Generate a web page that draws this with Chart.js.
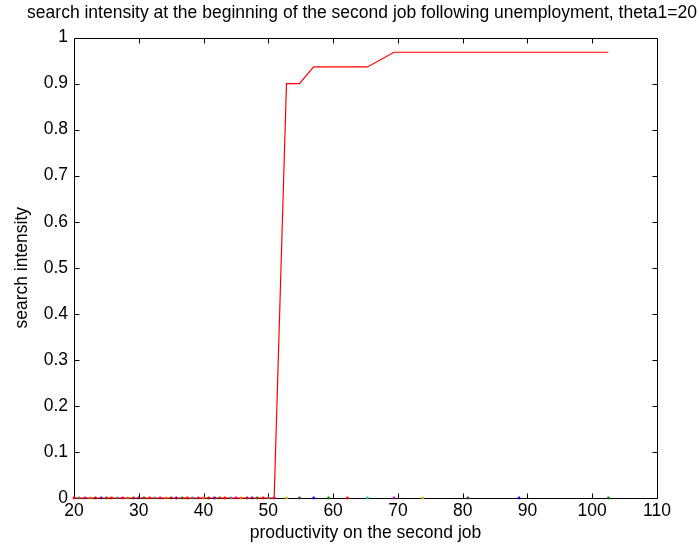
<!DOCTYPE html>
<html>
<head>
<meta charset="utf-8">
<script src="https://cdn.jsdelivr.net/npm/chart.js@4.4.1/dist/chart.umd.min.js"></script>
<style>
  html, body { margin: 0; padding: 0; background: #fff; }
  #wrap { width: 699px; height: 545px; }
</style>
</head>
<body>
<div id="wrap"><canvas id="c" width="699" height="545"></canvas></div>
<script>
// Productivity grid on the second job
const productivity = [
  20.0, 20.8, 21.7, 22.5, 23.3, 24.2, 25.0, 25.8, 26.7, 27.5,
  28.3, 29.2, 30.0, 30.8, 31.7, 32.5, 33.3, 34.2, 35.0, 35.8,
  36.7, 37.5, 38.3, 39.2, 40.0, 40.8, 41.7, 42.5, 43.3, 44.2,
  45.0, 45.8, 46.7, 47.5, 48.3, 49.2, 50.0, 50.9,
  52.8, 54.8, 57.0, 59.3, 62.2, 65.3, 69.4, 73.8, 80.8, 88.7, 102.5
];
// Search intensity at the start of the second job
const intensity = [
  0, 0, 0, 0, 0, 0, 0, 0, 0, 0,
  0, 0, 0, 0, 0, 0, 0, 0, 0, 0,
  0, 0, 0, 0, 0, 0, 0, 0, 0, 0,
  0, 0, 0, 0, 0, 0, 0, 0,
  0.900, 0.900, 0.936, 0.936, 0.936, 0.936, 0.968, 0.968, 0.968, 0.968, 0.968
];
const xTicks = [20, 30, 40, 50, 60, 70, 80, 90, 100, 110];
const yTicks = [0, 0.1, 0.2, 0.3, 0.4, 0.5, 0.6, 0.7, 0.8, 0.9, 1];
const titleText = 'search intensity at the beginning of the second job following unemployment, theta1=20';

const FONT = '"Liberation Sans", Arial, Helvetica, sans-serif';
const FS = 17.5;
const palette = ['#0000ff', '#008000', '#ff0000', '#00bfbf', '#bf00bf', '#bfbf00', '#404040'];

const linePts = productivity.map((x, i) => ({ x, y: intensity[i] }));
const zeroPts = productivity.map(x => ({ x, y: 0 }));

// Box frame with inward ticks on all four sides, plus the figure title
const framePlugin = {
  id: 'frame',
  beforeDatasetsDraw(chart) {
    const { ctx, chartArea: a, scales } = chart;
    const L = Math.round(a.left) + 0.5, R = Math.round(a.right) + 0.5;
    const T = Math.round(a.top) + 0.5, B = Math.round(a.bottom) + 0.5;
    const len = 5;
    ctx.save();
    ctx.strokeStyle = '#000';
    ctx.lineWidth = 1;
    ctx.beginPath();
    ctx.rect(L, T, R - L, B - T);
    xTicks.forEach(v => {
      const px = Math.round(scales.x.getPixelForValue(v)) + 0.5;
      ctx.moveTo(px, B); ctx.lineTo(px, B - len);
      ctx.moveTo(px, T); ctx.lineTo(px, T + len);
    });
    yTicks.forEach(v => {
      const py = Math.round(scales.y.getPixelForValue(v)) + 0.5;
      ctx.moveTo(L, py); ctx.lineTo(L + len, py);
      ctx.moveTo(R, py); ctx.lineTo(R - len, py);
    });
    ctx.stroke();

    ctx.fillStyle = '#000';
    ctx.font = FS + 'px ' + FONT;
    ctx.textAlign = 'center';
    ctx.textBaseline = 'middle';
    ctx.fillText(titleText, 362, 13);
    ctx.restore();
  }
};

new Chart(document.getElementById('c'), {
  type: 'scatter',
  data: {
    datasets: [
      {
        data: linePts,
        showLine: true,
        clip: false,
        borderColor: '#ff0000',
        borderWidth: 1.2,
        pointRadius: 0,
        tension: 0,
        fill: false
      },
      {
        data: zeroPts,
        showLine: false,
        clip: false,
        pointRadius: 1.4,
        pointBorderWidth: 0,
        pointBackgroundColor: productivity.map((_, i) => palette[(i + 2) % palette.length])
      }
    ]
  },
  plugins: [framePlugin],
  options: {
    responsive: false,
    animation: false,
    devicePixelRatio: 1,
    layout: { padding: { left: 0, right: 42, top: 37.5, bottom: 0 } },
    plugins: {
      legend: { display: false },
      tooltip: { enabled: false },
      title: { display: false }
    },
    scales: {
      x: {
        type: 'linear',
        min: 20, max: 110,
        afterBuildTicks(scale) { scale.ticks = xTicks.map(v => ({ value: v })); },
        afterFit(scale) { scale.height = 47; },
        grid: { display: false, drawTicks: false },
        border: { display: false },
        ticks: { color: '#000', padding: 3, maxRotation: 0, font: { family: FONT, size: FS } },
        title: {
          display: true,
          text: 'productivity on the second job',
          color: '#000',
          font: { family: FONT, size: FS },
          padding: { top: 0, bottom: 1.5 }
        }
      },
      y: {
        type: 'linear',
        min: 0, max: 1,
        afterBuildTicks(scale) { scale.ticks = yTicks.map(v => ({ value: v })); },
        afterFit(scale) { scale.width = 74; },
        grid: { display: false, drawTicks: false },
        border: { display: false },
        ticks: {
          color: '#000', padding: 6, font: { family: FONT, size: FS },
          callback: v => String(Math.round(v * 10) / 10)
        },
        title: {
          display: true,
          text: 'search intensity',
          color: '#000',
          font: { family: FONT, size: FS },
          padding: { top: 11.5, bottom: 0 }
        }
      }
    }
  }
});
</script>
</body>
</html>
